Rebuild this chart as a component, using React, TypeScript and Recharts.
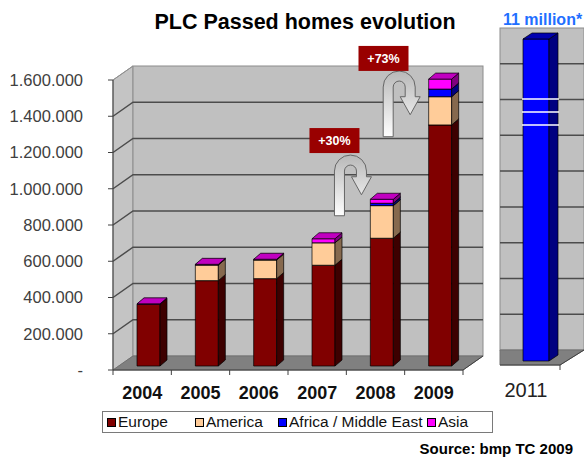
import React from "react";
import {
  BarChart,
  Bar,
  XAxis,
  YAxis,
  ReferenceArea,
  ReferenceDot,
  Legend,
} from "recharts";

// passed homes per region
const YEARS = ["2004", "2005", "2006", "2007", "2008", "2009"];
const EUROPE = [340000, 471000, 482000, 556000, 705000, 1330000];
const AMERICA = [0, 86000, 103000, 124000, 180000, 156000];
const AFRICA_ME = [0, 0, 0, 0, 13000, 42000];
const ASIA = [3000, 4000, 4000, 22000, 22000, 55000];
const REGIONS = ["Europe", "America", "Africa / Middle East", "Asia"];
const Y_TICKS = [0, 200000, 400000, 600000, 800000, 1000000, 1200000, 1400000, 1600000];

const FORECAST_YEARS = ["2011"];
const FORECAST_VALUES = [11000000];

const FONT = "'Liberation Sans', Arial, sans-serif";
const LEGEND_ITEM_W = [88, 83, 149, 60];

const data = YEARS.map((year, i) => ({
  year,
  europe: EUROPE[i],
  america: AMERICA[i],
  africa: AFRICA_ME[i],
  asia: ASIA[i],
}));

const forecastData = FORECAST_YEARS.map((year, i) => ({ year, total: FORECAST_VALUES[i] }));

const fmt = (v: number) => (v === 0 ? "-" : String(v).replace(/\B(?=(\d{3})+(?!\d))/g, "."));

// 3d box: front, side and top faces
function makeBox(front: string, side: string, top: string, depthX = 7, depthY = 6, breaks = false) {
  return (props: any) => {
    const { x, y, width, height } = props;
    if (!height || height <= 0) return <g />;
    const x0 = x + 6;
    const y0 = y - 4;
    const r = x0 + width;
    return (
      <g stroke="#000" strokeWidth={0.7} strokeLinejoin="round">
        <rect x={x0} y={y0} width={width} height={height} fill={front} />
        <path
          d={`M${r},${y0} L${r + depthX},${y0 - depthY} L${r + depthX},${y0 + height - depthY} L${r},${y0 + height} Z`}
          fill={side}
        />
        <path
          d={`M${x0},${y0} L${x0 + depthX},${y0 - depthY} L${r + depthX},${y0 - depthY} L${r},${y0} Z`}
          fill={top}
        />
        {breaks
          ? [60, 73, 86].map((o) => (
              <line
                key={o}
                x1={x0 - 1}
                x2={r + depthX + 1}
                y1={y0 + o}
                y2={y0 + o}
                stroke="#fff"
                strokeWidth={1.6}
              />
            ))
          : null}
      </g>
    );
  };
}

const mainFrame = (props: any) => {
  const { x, y, width, height } = props;
  const dx = 20;
  const dy = 14;
  const bottom = y + height;
  const n = Y_TICKS.length - 1;
  const cats = YEARS.length;
  return (
    <g>
      <path
        d={`M${x},${y} L${x + dx},${y - dy} L${x + dx},${bottom - dy} L${x},${bottom} Z`}
        fill="#c4c4c4"
        stroke="#909090"
      />
      <rect x={x + dx} y={y - dy} width={width} height={height} fill="#c0c0c0" stroke="#8c8c8c" />
      <path
        d={`M${x},${bottom} L${x + dx},${bottom - dy} L${x + width + dx},${bottom - dy} L${x + width},${bottom} Z`}
        fill="#808080"
        stroke="#707070"
      />
      {Y_TICKS.slice(1, n).map((_, i) => {
        const ly = bottom - (height * (i + 1)) / n;
        return (
          <polyline
            key={i}
            points={`${x},${ly} ${x + dx},${ly - dy} ${x + width + dx},${ly - dy}`}
            fill="none"
            stroke="#4c4c4c"
            strokeWidth={1.5}
          />
        );
      })}
      <line x1={x} y1={y} x2={x + dx} y2={y - dy} stroke="#909090" />
      <line x1={x + width} y1={bottom} x2={x + width + dx} y2={bottom - dy} stroke="#404040" />
      {Array.from({ length: cats + 1 }).map((_, i) => (
        <line
          key={i}
          x1={x + (width * i) / cats}
          x2={x + (width * i) / cats}
          y1={bottom}
          y2={bottom + 5}
          stroke="#404040"
        />
      ))}
    </g>
  );
};

const forecastFrame = (props: any) => {
  const { x, y, width, height } = props;
  const dx = 24;
  const dy = 15;
  const bottom = y + height;
  const n = 9;
  return (
    <g>
      <rect x={x} y={y - dy} width={width + dx} height={height} fill="#c0c0c0" stroke="#8c8c8c" />
      <path
        d={`M${x},${bottom} L${x},${bottom - dy} L${x + width + dx},${bottom - dy} L${x + width},${bottom} Z`}
        fill="#808080"
        stroke="#707070"
      />
      {Array.from({ length: n - 1 }).map((_, i) => {
        const ly = y - dy + (height * (i + 1)) / n;
        return <line key={i} x1={x} x2={x + width + dx} y1={ly} y2={ly} stroke="#4c4c4c" strokeWidth={1.5} />;
      })}
      <line x1={x + width} y1={bottom} x2={x + width + dx} y2={bottom - dy} stroke="#404040" />
      <line x1={x + width} y1={bottom} x2={x + width} y2={bottom + 5} stroke="#404040" />
    </g>
  );
};

function makeArrow(label: string, offX: number, L: number, hb: number, boxDx: number, boxDy: number, id: string) {
  return (props: any) => {
    const { cx, cy } = props;
    if (cx == null || cy == null) return <g />;
    const x = cx + offX;
    const y = cy;
    const d =
      `M${x},${y} L${x},${y - L} A16,16 0 0 1 ${x + 32},${y - L} L${x + 32},${y - hb} ` +
      `L${x + 37},${y - hb} L${x + 27},${y - hb + 18} L${x + 17},${y - hb} L${x + 22},${y - hb} ` +
      `L${x + 22},${y - L} A6,6 0 0 0 ${x + 10},${y - L} L${x + 10},${y} Z`;
    const bx = x + boxDx;
    const by = y + boxDy;
    return (
      <g>
        <defs>
          <linearGradient id={id} x1="0" y1="0" x2="0" y2="1">
            <stop offset="0%" stopColor="#b8b8b8" />
            <stop offset="100%" stopColor="#ffffff" />
          </linearGradient>
        </defs>
        <path d={d} fill={`url(#${id})`} stroke="#666" strokeWidth={1} />
        <rect x={bx - 25} y={by - 12.5} width={50} height={25} fill="#990000" />
        <text
          x={bx}
          y={by + 4.5}
          textAnchor="middle"
          fill="#fff"
          fontFamily={FONT}
          fontWeight="bold"
          fontSize={12.5}
        >
          {label}
        </text>
      </g>
    );
  };
}

const renderLegend = (props: any) => {
  const payload = [...(props.payload || [])].sort(
    (a: any, b: any) => REGIONS.indexOf(a.value) - REGIONS.indexOf(b.value)
  );
  return (
    <div
      style={{
        boxSizing: "border-box",
        width: 391,
        height: 22,
        border: "1px solid #7a7a7a",
        background: "#fff",
        display: "flex",
        alignItems: "center",
        paddingLeft: 4,
        fontFamily: FONT,
        fontSize: 15.5,
        color: "#111",
        whiteSpace: "nowrap",
      }}
    >
      {payload.map((p: any, i: number) => (
        <span
          key={p.value}
          style={{ display: "inline-flex", alignItems: "center", width: LEGEND_ITEM_W[i], flex: "none" }}
        >
          <span
            style={{
              display: "inline-block",
              width: 7,
              height: 7,
              border: "1px solid #000",
              background: p.color,
              marginRight: 2,
            }}
          />
          {p.value}
        </span>
      ))}
    </div>
  );
};

export default function App() {
  return (
    <div style={{ position: "absolute", left: 0, top: 0, width: 584, height: 457, background: "#fff", overflow: "hidden" }}>
      <svg width={584} height={457} style={{ position: "absolute", left: 0, top: 0 }}>
        <text x={305} y={29} textAnchor="middle" fontFamily={FONT} fontWeight="bold" fontSize={21.5} fill="#000">
          PLC Passed homes evolution
        </text>
        <text x={503} y={25} fontFamily={FONT} fontWeight="bold" fontSize={16} fill="#1f6fff">
          11 million*
        </text>
        <text x={573} y={454} textAnchor="end" fontFamily={FONT} fontWeight="bold" fontSize={15} fill="#000">
          Source: bmp TC 2009
        </text>
      </svg>

      <div style={{ position: "absolute", left: 0, top: 0 }}>
        <BarChart width={500} height={457} data={data} margin={{ top: 80, right: 37, bottom: 57, left: 0 }}>
          <XAxis
            dataKey="year"
            tickLine={false}
            axisLine={{ stroke: "#404040" }}
            tickSize={6}
            tickMargin={10}
            height={30}
            tick={{ fontSize: 18, fontWeight: "bold", fill: "#111", fontFamily: FONT }}
          />
          <YAxis
            domain={[0, 1600000]}
            ticks={Y_TICKS}
            interval={0}
            width={113}
            tickSize={5}
            tickMargin={25}
            tickFormatter={fmt}
            axisLine={{ stroke: "#404040" }}
            tickLine={{ stroke: "#404040" }}
            tick={{ fontSize: 16.5, fill: "#404040", fontFamily: FONT }}
          />
          <ReferenceArea y1={0} y2={1600000} ifOverflow="visible" shape={mainFrame} />
          <Bar dataKey="europe" name={REGIONS[0]} stackId="a" barSize={23} fill="#800000" isAnimationActive={false}
            shape={makeBox("#800000", "#3d0000", "#600000")} />
          <Bar dataKey="america" name={REGIONS[1]} stackId="a" barSize={23} fill="#ffcc99" isAnimationActive={false}
            shape={makeBox("#ffcc99", "#86694e", "#c79f78")} />
          <Bar dataKey="africa" name={REGIONS[2]} stackId="a" barSize={23} fill="#0000ff" isAnimationActive={false}
            shape={makeBox("#0000ff", "#000080", "#0000c0")} />
          <Bar dataKey="asia" name={REGIONS[3]} stackId="a" barSize={23} fill="#ff00ff" isAnimationActive={false}
            shape={makeBox("#ff00ff", "#800080", "#c000c0")} />
          <ReferenceDot x="2007" y={851000} r={0} ifOverflow="visible"
            shape={makeArrow("+30%", 17.3, 44.7, 39, 0, -75.2, "arrGrad1")} />
          <ReferenceDot x="2008" y={1287000} r={0} ifOverflow="visible"
            shape={makeArrow("+73%", 7.7, 49.7, 40, 0.3, -78.3, "arrGrad2")} />
          <Legend
            layout="horizontal"
            verticalAlign="middle"
            align="center"
            content={renderLegend}
            wrapperStyle={{ left: 102, top: 411, width: 391, height: 22 }}
          />
        </BarChart>
      </div>

      <div style={{ position: "absolute", left: 480, top: 0 }}>
        <BarChart width={104} height={457} data={forecastData} margin={{ top: 43, right: 24, bottom: 62, left: 20 }}>
          <XAxis
            dataKey="year"
            tickLine={false}
            axisLine={{ stroke: "#404040" }}
            tickSize={6}
            tickMargin={12}
            height={30}
            tick={{ fontSize: 20, fill: "#222", fontFamily: FONT, dx: -4 }}
          />
          <YAxis hide domain={[0, 11000000]} />
          <ReferenceArea y1={0} y2={11000000} ifOverflow="visible" shape={forecastFrame} />
          <Bar dataKey="total" barSize={26} fill="#0000ff" isAnimationActive={false}
            shape={makeBox("#0000ff", "#000080", "#0000b0", 9, 6, true)} />
        </BarChart>
      </div>
    </div>
  );
}
